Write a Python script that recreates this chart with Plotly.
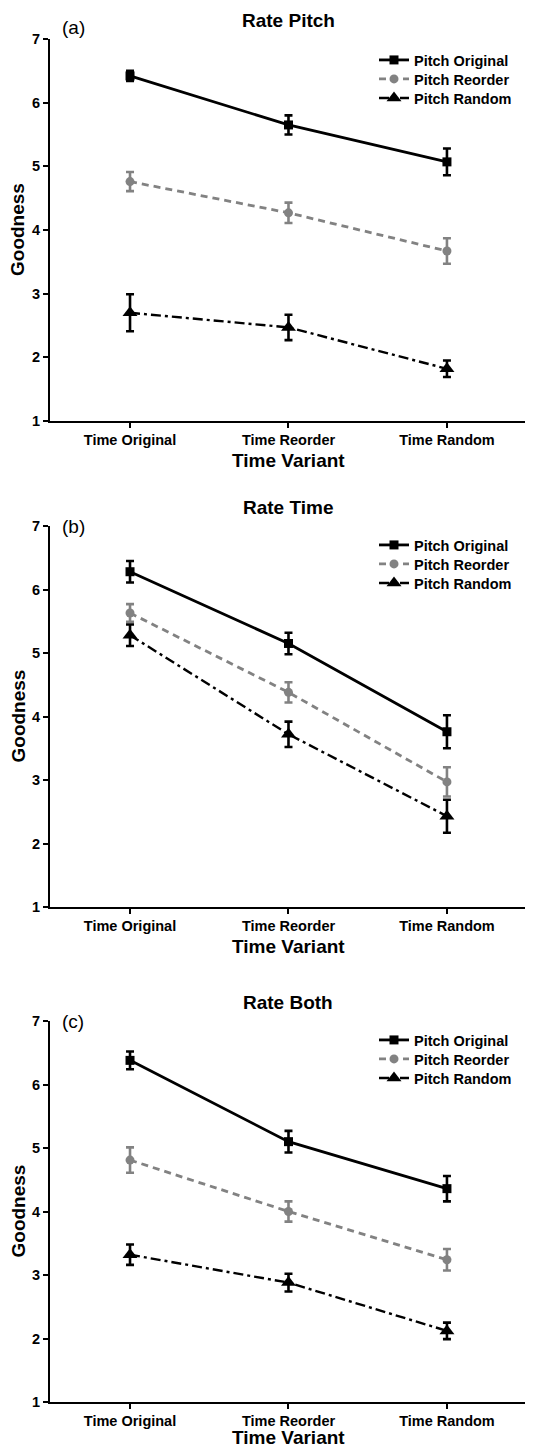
import plotly.graph_objects as go

# ---------------- data ----------------
categories = ["Time Original", "Time Reorder", "Time Random"]
series_names = ["Pitch Original", "Pitch Reorder", "Pitch Random"]
panel_titles = ["Rate Pitch", "Rate Time", "Rate Both"]
panel_letters = ["(a)", "(b)", "(c)"]
y_ticks = [1, 2, 3, 4, 5, 6, 7]

# Rate Pitch
a_orig = [6.42, 5.65, 5.07]
a_orig_err = [0.08, 0.15, 0.21]
a_reord = [4.76, 4.27, 3.67]
a_reord_err = [0.15, 0.16, 0.20]
a_rand = [2.70, 2.47, 1.82]
a_rand_err = [0.29, 0.20, 0.13]

# Rate Time
b_orig = [6.28, 5.15, 3.76]
b_orig_err = [0.17, 0.17, 0.26]
b_reord = [5.63, 4.38, 2.97]
b_reord_err = [0.14, 0.16, 0.23]
b_rand = [5.28, 3.72, 2.43]
b_rand_err = [0.17, 0.20, 0.26]

# Rate Both
c_orig = [6.38, 5.10, 4.36]
c_orig_err = [0.14, 0.17, 0.20]
c_reord = [4.81, 4.00, 3.24]
c_reord_err = [0.20, 0.16, 0.17]
c_rand = [3.32, 2.88, 2.12]
c_rand_err = [0.16, 0.14, 0.13]

panels = [
    [(a_orig, a_orig_err), (a_reord, a_reord_err), (a_rand, a_rand_err)],
    [(b_orig, b_orig_err), (b_reord, b_reord_err), (b_rand, b_rand_err)],
    [(c_orig, c_orig_err), (c_reord, c_reord_err), (c_rand, c_rand_err)],
]

# ---------------- layout / style ----------------
OFF = 8  # default page body margin
W, H = 533 - OFF, 1447 - OFF
FONT = "Liberation Sans, Arial, sans-serif"
GRAY = "#828282"

def fx(px):
    return (px - OFF) / W

def fy(px):
    return 1 - (px - OFF) / H

# page-pixel extents of plot areas (top, bottom)
panel_px = [(39, 421), (526, 907), (1021, 1402)]
letter_dy = [-11, 0, 0]
legend_first_dy = [21, 19, 19]
legend_row_gap = 19
xtitle_dy = [39, 39, 35]
x_left_px = 50

styles = [
    dict(color="black", dash="solid", width=2.8, symbol="square", msize=9),
    dict(color=GRAY, dash="7px,5px", width=2.8, symbol="circle", msize=9),
    dict(color="black", dash="10px,4px,3px,4px", width=2.4, symbol="triangle-up", msize=13),
]

fig = go.Figure()
annotations = []
layout = {}

for p, series in enumerate(panels):
    sfx = "" if p == 0 else str(p + 1)
    xa, ya = "x" + sfx, "y" + sfx
    top, bot = panel_px[p]
    for s, (vals, errs) in enumerate(series):
        st = styles[s]
        k = p * 3 + s
        leg = "legend" if k == 0 else "legend" + str(k + 1)
        fig.add_trace(go.Scatter(
            x=categories, y=vals,
            xaxis=xa, yaxis=ya,
            mode="lines+markers",
            name=series_names[s],
            showlegend=True,
            line=dict(color=st["color"], dash=st["dash"], width=st["width"]),
            marker=dict(symbol=st["symbol"], size=st["msize"], color=st["color"]),
            error_y=dict(type="data", array=errs, visible=True,
                         color=st["color"], thickness=2.6, width=4),
            legend=leg,
        ))
        layout[leg] = dict(
            x=fx(374), y=fy(top + legend_first_dy[p] + s * legend_row_gap),
            xanchor="left", yanchor="middle",
            bgcolor="rgba(0,0,0,0)", itemwidth=30, visible=True,
            font=dict(family=FONT, size=14.5, color="black", weight="bold"),
        )
    layout["xaxis" + sfx] = dict(
        domain=[fx(x_left_px), 1], anchor=ya,
        type="category", range=[-0.505, 2.543],
        showline=True, linecolor="black", linewidth=2,
        ticks="outside", ticklen=5, tickwidth=2, tickcolor="black",
        showgrid=False, zeroline=False, automargin=False,
        tickfont=dict(family=FONT, size=14.5, color="black", weight="bold"),
    )
    layout["yaxis" + sfx] = dict(
        domain=[fy(bot), fy(top)], anchor=xa,
        range=[1, 7], tickvals=y_ticks,
        showline=True, linecolor="black", linewidth=2,
        ticks="outside", ticklen=5, tickwidth=2, tickcolor="black",
        showgrid=False, zeroline=False, automargin=False,
        tickfont=dict(family=FONT, size=14.5, color="black", weight="bold"),
    )
    # title
    annotations.append(dict(
        text=panel_titles[p], x=fx(288), y=fy(top - 19), xref="paper", yref="paper",
        showarrow=False, xanchor="center", yanchor="middle",
        font=dict(family=FONT, size=19, color="black", weight="bold")))
    # panel letter
    annotations.append(dict(
        text=panel_letters[p], x=fx(60), y=fy(top + letter_dy[p]), xref="paper", yref="paper",
        showarrow=False, xanchor="left", yanchor="middle",
        font=dict(family=FONT, size=19, color="black")))
    # x-axis title
    annotations.append(dict(
        text="Time Variant", x=fx(288), y=fy(bot + xtitle_dy[p]), xref="paper", yref="paper",
        showarrow=False, xanchor="center", yanchor="middle",
        font=dict(family=FONT, size=19, color="black", weight="bold")))
    # y-axis title
    annotations.append(dict(
        text="Goodness", x=fx(18), y=fy((top + bot) / 2), xref="paper", yref="paper",
        showarrow=False, xanchor="center", yanchor="middle", textangle=-90,
        font=dict(family=FONT, size=19, color="black", weight="bold")))

fig.update_layout(
    width=W, height=H,
    margin=dict(l=0, r=0, t=0, b=0),
    paper_bgcolor="white", plot_bgcolor="white",
    showlegend=True,
    annotations=annotations,
    **layout,
)

fig.write_html("out.html")
